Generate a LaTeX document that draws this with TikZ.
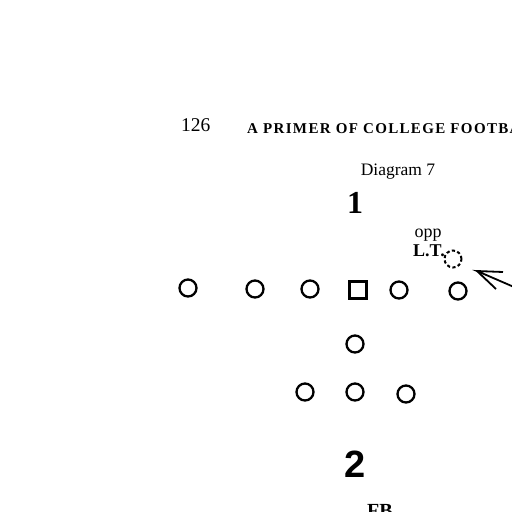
\documentclass[tikz,border=0pt]{standalone}
\usepackage{fontspec}
\setmainfont{Liberation Serif}
\setsansfont{Liberation Sans}
\begin{document}
\begin{tikzpicture}[x=1pt,y=-1pt,
  player/.style={draw,circle,line width=2.3pt,minimum size=17pt,inner sep=0pt},
  centre/.style={draw,rectangle,line width=2.3pt,minimum size=17pt,inner sep=0pt},
  opponent/.style={draw,circle,dashed,dash pattern=on 3.2pt off 2.4pt,line width=2pt,minimum size=17pt,inner sep=0pt},
  txt/.style={inner sep=0pt}]
\useasboundingbox (0,0) rectangle (512,512);
\clip (0,0) rectangle (512,512);
% heading
\node[txt,anchor=base west] (page) at (181,131) {\fontsize{19.5}{19.5}\selectfont 126};
\node[txt,anchor=base west] (head) at (247,133) {\fontsize{15}{15}\selectfont\bfseries\addfontfeature{LetterSpace=9}A PRIMER OF COLLEGE FOOTBALL};
\node[txt,anchor=base] (diag) at (398,175) {\fontsize{17.5}{17.5}\selectfont Diagram 7};
% ball carrier numbers
\node[txt,anchor=base] (one) at (355,213) {\fontsize{32}{32}\selectfont\bfseries 1};
\node[txt,anchor=base] (two) at (355,477) {\fontsize{38}{38}\selectfont\sffamily\bfseries 2};
% line
\node[player] (le) at (188,288) {};
\node[player] (lt) at (255,289) {};
\node[player] (lg) at (310,289) {};
\node[centre] (c) at (358,290) {};
\node[player] (rg) at (399,290) {};
\node[player] (rt) at (458,291) {};
% opponent
\node[opponent] (opp) at (453,259) {};
\node[txt,anchor=base] (opplab) at (428,237) {\fontsize{18}{18}\selectfont opp};
\node[txt,anchor=base] (ltlab) at (429,256) {\fontsize{18}{18}\selectfont\bfseries L.T.};
% arrow
\coordinate (tip) at (477,271);
\coordinate (tail) at (514,287);
\coordinate (barbA) at (503,272);
\coordinate (barbB) at (496,289);
\draw[line width=1.8pt] (tail) -- (tip) -- (barbA);
\draw[line width=1.8pt] (tip) -- (barbB);
% backfield
\node[player] (qb) at (355,344) {};
\node[player] (lh) at (305,392) {};
\node[player] (fbk) at (355,392) {};
\node[player] (rh) at (406,394) {};
\node[txt,anchor=base] (fb) at (380,517) {\fontsize{20}{20}\selectfont\bfseries FB};
\end{tikzpicture}
\end{document}
